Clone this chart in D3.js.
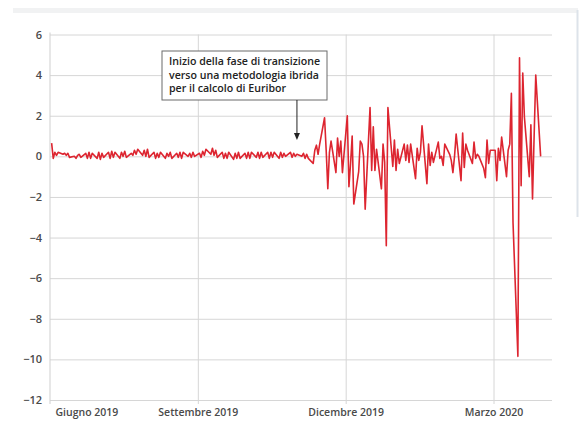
<!DOCTYPE html>
<html><head><meta charset="utf-8">
<script src="https://cdn.jsdelivr.net/npm/d3@7"></script>
<style>
body{margin:0;background:#fff;}
svg{display:block;font-family:"Open Sans",sans-serif;}
</style>
</head><body>
<svg id="chart" width="584" height="421"></svg>
<script>
// ---- data (daily change, business days) ----
const monthKeys = ["2019-06","2019-07","2019-08","2019-09","2019-10","2019-11","2019-12","2020-01","2020-02","2020-03"];
const jun2019 = [0.65,-0.1,0.2,0.05,0.2,0.1,0.15,0.05,0.15,-0.05,0.0,-0.1,0.05,0.1,-0.05,0.15,-0.1,0.2,-0.1,0.15];
const jul2019 = [-0.1,0.2,-0.15,0.15,-0.05,0.2,-0.1,0.25,-0.05,0.2,-0.1,0.2,0.0,0.25,-0.05,0.15,0.05,0.3,0.1,0.35,0.05,0.3,0.0];
const aug2019 = [0.35,-0.05,0.2,-0.1,0.15,-0.05,0.2,-0.1,0.15,0.0,0.2,-0.1,0.15,-0.05,0.2,-0.1,0.2,0.0,0.15,-0.05,0.2,0.0];
const sep2019 = [0.15,-0.05,0.25,0.05,0.35,0.1,0.4,0.05,0.3,-0.05,0.2,-0.1,0.15,-0.1,0.2,-0.15,0.15,-0.1,0.2,-0.1,0.15];
const oct2019 = [-0.1,0.2,-0.1,0.2,-0.05,0.2,-0.1,0.2,-0.05,0.2,-0.1,0.2,-0.05,0.2,-0.1,0.2,-0.05,0.15,0.0,0.2,-0.05,0.15,0.0];
const nov2019 = [0.1,0.0,0.15,-0.1,0.1,-0.1,-0.35,0.3,0.55,0.1,0.6,1.9,0.3,-1.6,0.2,0.75,-0.8,0.9,0.0,0.75,-0.8];
const dec2019 = [2.0,-1.5,-0.35,1.0,-2.35,-0.75,0.75,0.6,0.0,-2.6,2.4,-0.7,1.45,-0.7,0.35,-1.6,0.6,-0.3,-4.4,2.4,-0.5,0.8];
const jan2020 = [-0.7,0.35,-0.35,0.6,-0.2,0.55,-0.3,0.6,-1.1,0.4,-0.2,0.2,1.5,-1.35,0.6,-0.45,0.2,-0.3,0.7,-0.1,0.0,-0.45,0.6];
const feb2020 = [0.1,-0.2,-0.8,0.0,1.1,-1.2,1.15,-0.55,0.6,0.3,-0.35,0.7,-0.1,0.1,0.0,-0.6,-1.05,0.8,-0.35,0.3];
const mar2020 = [0.3,-1.2,0.4,-0.2,0.95,-1.0,0.3,0.6,3.1,-3.25,-9.85,4.85,-1.45,4.1,1.95,-1.0,1.55,-2.1,1.0,4.0,0.0];
const valuesByMonth = [jun2019,jul2019,aug2019,sep2019,oct2019,nov2019,dec2019,jan2020,feb2020,mar2020];

const yTicks = [6,4,2,0,-2,-4,-6,-8,-10,-12];
const xTickDates = ["2019-06-01","2019-09-01","2019-12-01","2020-03-01"];
const xTickLabels = ["Giugno 2019","Settembre 2019","Dicembre 2019","Marzo 2020"];
const xDomain = ["2019-06-02","2020-04-06"];
const annotationLines = ["Inizio della fase di transizione","verso una metodologia ibrida","per il calcolo di Euribor"];
const annotationDate = "2019-11-01";

// ---- build series ----
const parse = d3.timeParse("%Y-%m-%d");
function weekdaysOfMonth(key, n){
  const start = parse(key + "-01");
  const end = d3.timeMonth.offset(start, 1);
  return d3.timeDay.range(start, end).filter(d => d.getDay() !== 0 && d.getDay() !== 6).slice(0, n);
}
const data = [];
monthKeys.forEach((k, i) => {
  const vals = valuesByMonth[i];
  weekdaysOfMonth(k, vals.length).forEach((d, j) => data.push({date: d, value: vals[j]}));
});

// ---- layout ----
const svg = d3.select("#chart");
const mLeft = 50, mRight = 552, mTop = 34.5, mBottom = 400;
const x = d3.scaleTime().domain(xDomain.map(parse)).range([mLeft, mRight]);
const y = d3.scaleLinear().domain([-12, 6]).range([mBottom, mTop]);

// page frame hints
svg.append("rect").attr("x", 13).attr("y", 8).attr("width", 565).attr("height", 5).attr("fill", "#f1f2f3");
svg.append("rect").attr("x", 576.5).attr("y", 10).attr("width", 2).attr("height", 207).attr("fill", "#dde3ea");

// horizontal gridlines
const gy = svg.append("g").attr("transform", `translate(${mLeft},0)`)
  .call(d3.axisLeft(y).tickValues(yTicks).tickSize(-(mRight - mLeft)).tickPadding(8).tickFormat(d3.format("d")));
gy.select(".domain").remove();
gy.selectAll(".tick line").attr("stroke", "#d6d6d6").attr("stroke-width", 1);
gy.selectAll(".tick text").attr("fill", "#4a4a4a").attr("font-size", 11).attr("font-family", "'Open Sans',sans-serif").attr("font-weight", 600);

// vertical gridlines + x labels
const gx = svg.append("g").attr("transform", `translate(0,${mBottom})`)
  .call(d3.axisBottom(x).tickValues(xTickDates.map(parse)).tickSize(-(mBottom - mTop)).tickPadding(9)
    .tickFormat((d, i) => xTickLabels[i]));
gx.select(".domain").remove();
gx.selectAll(".tick line").attr("stroke", "#d6d6d6").attr("stroke-width", 1).attr("y1", 4);
gx.selectAll(".tick text").attr("fill", "#4a4a4a").attr("font-size", 10.5).attr("font-family", "'Open Sans',sans-serif").attr("font-weight", 600);
gx.selectAll(".tick").filter((d, i) => i === 0).select("line").remove();
gx.selectAll(".tick").filter((d, i) => i === 0).select("text").attr("text-anchor", "start").attr("x", 5 - (x(parse(xTickDates[0])) - mLeft));

// left axis line
svg.append("line").attr("x1", mLeft).attr("x2", mLeft).attr("y1", mTop - 2).attr("y2", mBottom + 4).attr("stroke", "#cfcfcf");

// series line
const line = d3.line().x(d => x(d.date)).y(d => y(d.value));
svg.append("path").datum(data).attr("d", line).attr("fill", "none")
  .attr("stroke", "#dd2530").attr("stroke-width", 1.6).attr("stroke-linejoin", "round");

// annotation
const ax = x(parse(annotationDate));
svg.append("rect").attr("x", 162).attr("y", 51).attr("width", 165).attr("height", 49)
  .attr("fill", "#fff").attr("stroke", "#6b6b6b").attr("stroke-width", 1);
svg.append("g").selectAll("text").data(annotationLines).join("text")
  .attr("x", 169).attr("y", (d, i) => 65 + i * 13.5)
  .attr("font-size", 10.6).attr("font-weight", 600).attr("fill", "#222")
  .text(d => d);
svg.append("line").attr("x1", ax).attr("x2", ax).attr("y1", 100).attr("y2", 134).attr("stroke", "#222").attr("stroke-width", 1);
svg.append("path").attr("d", `M${ax - 3},${133} L${ax + 3},${133} L${ax},${140} Z`).attr("fill", "#222");
</script>
</body></html>
